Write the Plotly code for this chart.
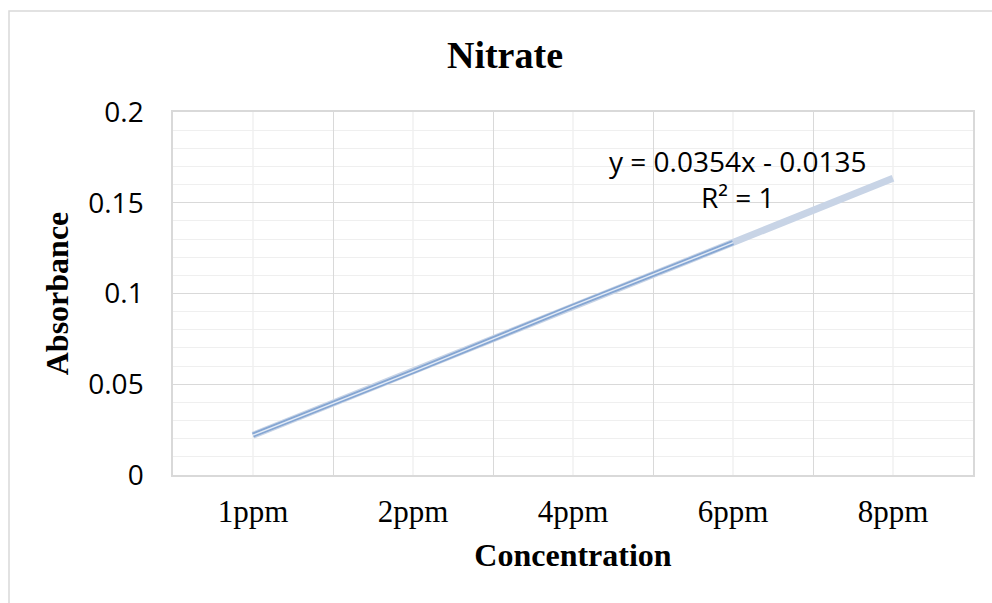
import plotly.graph_objects as go

categories = ["1ppm", "2ppm", "4ppm", "6ppm", "8ppm"]
absorbance = [0.022, 0.057, 0.093, 0.128, None]
trend_slope = 0.0354
trend_intercept = -0.0135
trend_label = "y = 0.0354x - 0.0135<br>R² = 1"

# trendline endpoints on the category index scale (1..n)
trend_x = [categories[0], categories[-1]]
trend_y = [trend_slope * 1 + trend_intercept, trend_slope * len(categories) + trend_intercept]

SANS = "Open Sans, Lato, sans-serif"
SERIF = "Liberation Serif, Times New Roman, serif"

fig = go.Figure()

# light vertical lines at category centres (minor grid)
for c in categories:
    fig.add_shape(type="line", xref="x", yref="paper", x0=c, x1=c, y0=0, y1=1,
                  line=dict(color="#efefef", width=1.3), layer="below")

# trendline (under the data line)
fig.add_trace(go.Scatter(x=trend_x, y=trend_y, mode="lines",
                         line=dict(color="#c8d4e6", width=7), showlegend=False,
                         hoverinfo="skip"))
# data line: blue outer with light centre (double line look)
fig.add_trace(go.Scatter(x=categories, y=absorbance, mode="lines",
                         line=dict(color="#85a6d3", width=5), showlegend=False,
                         connectgaps=False))
fig.add_trace(go.Scatter(x=categories, y=absorbance, mode="lines",
                         line=dict(color="#e3ebf6", width=1.4), showlegend=False,
                         hoverinfo="skip"))

fig.add_annotation(x=categories[3], y=0.163, xref="x", yref="y",
                   text=trend_label, showarrow=False, align="center",
                   font=dict(family=SANS, size=28, color="#000000"),
                   xshift=5)

# chart-area border
fig.add_shape(type="rect", xref="paper", yref="paper",
              x0=(9 - 173) / 800, x1=(1010 - 173) / 800,
              y0=(475 - 620) / 363, y1=(475 - 11) / 363,
              line=dict(color="#d9d9d9", width=1.5), layer="below")

fig.update_layout(
    width=992, height=603,
    margin=dict(l=173, r=19, t=112, b=128),
    paper_bgcolor="white", plot_bgcolor="white",
    title=dict(text="<b>Nitrate</b>", x=505 / 992, xanchor="center",
               y=1 - 55 / 603, yanchor="middle", yref="container",
               font=dict(family=SERIF, size=38, color="#000000")),
    showlegend=False,
)

fig.update_xaxes(
    type="category", categoryorder="array", categoryarray=categories,
    tickson="boundaries", showgrid=True, gridcolor="#d9d9d9", gridwidth=1.3,
    showline=True, linecolor="#d9d9d9", linewidth=1.5, mirror=True,
    ticks="outside", ticklen=26, tickcolor="rgba(0,0,0,0)",
    ticklabelstandoff=8,
    tickfont=dict(family=SERIF, size=31, color="#000000"),
    title=dict(text="<b>Concentration</b>", standoff=16,
               font=dict(family=SERIF, size=32, color="#000000")),
    range=[-0.5, len(categories) - 0.5], zeroline=False,
)

fig.update_yaxes(
    range=[0, 0.2], dtick=0.05, tick0=0,
    showgrid=True, gridcolor="#d9d9d9", gridwidth=1.3,
    minor=dict(dtick=0.01, showgrid=True, gridcolor="#efefef", gridwidth=1.3),
    showline=True, linecolor="#d9d9d9", linewidth=1.5, mirror=True,
    ticks="outside", ticklen=22, tickcolor="rgba(0,0,0,0)",
    tickfont=dict(family=SANS, size=28, color="#000000"),
    title=dict(text="<b>Absorbance</b>", standoff=10,
               font=dict(family=SERIF, size=32, color="#000000")),
    zeroline=False,
)

fig.write_html("out.html")
